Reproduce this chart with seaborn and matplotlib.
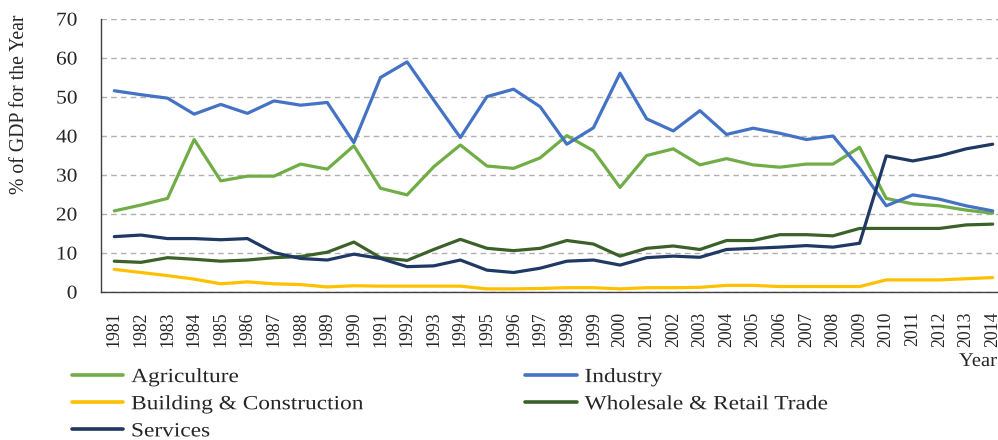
import numpy as np
import pandas as pd
import matplotlib
matplotlib.use('Agg')
import matplotlib.pyplot as plt
import seaborn as sns
from matplotlib.patheffects import AbstractPathEffect
from matplotlib.transforms import Affine2D

# data
years = [str(y) for y in range(1981, 2015)]

agriculture = [20.8, 22.3, 24.0, 39.1, 28.5, 29.7, 29.7, 32.8, 31.5, 37.5,
               26.6, 24.9, 32.1, 37.7, 32.3, 31.7, 34.4, 40.1, 36.2, 26.8,
               35.0, 36.7, 32.6, 34.2, 32.6, 32.0, 32.8, 32.8, 37.1, 24.0,
               22.6, 22.1, 21.0, 20.2]
industry = [51.6, 50.6, 49.7, 45.6, 48.1, 45.8, 49.0, 47.9, 48.6, 38.3,
            55.0, 59.0, 49.2, 39.6, 50.1, 52.0, 47.5, 37.9, 42.1, 56.1,
            44.4, 41.3, 46.5, 40.4, 42.0, 40.7, 39.1, 40.0, 31.8, 22.1,
            24.9, 23.8, 22.1, 20.8]
building = [5.8, 5.0, 4.2, 3.3, 2.1, 2.6, 2.1, 1.9, 1.3, 1.6,
            1.5, 1.5, 1.5, 1.5, 0.8, 0.8, 0.9, 1.1, 1.1, 0.8,
            1.1, 1.1, 1.2, 1.7, 1.7, 1.4, 1.4, 1.4, 1.4, 3.1,
            3.1, 3.1, 3.4, 3.7]
wholesale = [7.9, 7.6, 8.8, 8.4, 7.9, 8.2, 8.8, 9.1, 10.2, 12.8,
             8.8, 8.1, 10.9, 13.5, 11.2, 10.6, 11.2, 13.2, 12.3, 9.2,
             11.2, 11.8, 10.9, 13.2, 13.2, 14.7, 14.7, 14.4, 16.3, 16.3,
             16.3, 16.3, 17.2, 17.4]
services = [14.2, 14.6, 13.7, 13.7, 13.4, 13.7, 10.1, 8.6, 8.2, 9.7,
            8.6, 6.5, 6.7, 8.2, 5.6, 5.0, 6.1, 7.9, 8.2, 6.9,
            8.8, 9.2, 8.9, 10.9, 11.2, 11.5, 11.9, 11.5, 12.5, 34.9,
            33.6, 34.9, 36.7, 37.9]

sectors = ['Agriculture', 'Industry', 'Building & Construction',
           'Wholesale & Retail Trade', 'Services']
colors = ['#70AD47', '#4472C4', '#FFC000', '#3B6128', '#1F3864']

df = pd.DataFrame({'Year': years,
                   'Agriculture': agriculture,
                   'Industry': industry,
                   'Building & Construction': building,
                   'Wholesale & Retail Trade': wholesale,
                   'Services': services})
df = df.melt(id_vars='Year', var_name='Sector', value_name='GDP')


# the horizontal text in the original is drawn a bit wide
class StretchX(AbstractPathEffect):
    def __init__(self, sx, anchor='left'):
        super().__init__()
        self.sx = sx
        self.anchor = anchor

    def draw_path(self, renderer, gc, tpath, affine, rgbFace=None):
        ext = tpath.get_extents()
        x0 = ext.x0 if self.anchor == 'left' else ext.x1
        t = Affine2D().translate(-x0, 0).scale(self.sx, 1).translate(x0, 0) + affine
        renderer.draw_path(gc, tpath, t, rgbFace)


sns.set_style('white')
plt.rcParams['font.family'] = ['Liberation Serif', 'DejaVu Serif']

fig = plt.figure(figsize=(9.98, 4.40), dpi=100)
ax = fig.add_axes([101/998, 1 - 292/440, 905/998, 273/440])

sns.lineplot(data=df, x='Year', y='GDP', hue='Sector', hue_order=sectors,
             palette=colors, linewidth=2.3, ax=ax, legend=False, sort=False)

ax.set_xlim(-0.5, 33.5)
ax.set_ylim(0, 70)
ax.set_yticks(range(0, 71, 10))
ax.yaxis.grid(True, linestyle=(0, (4, 3)), color='#B0B0B0', linewidth=1)
ax.set_axisbelow(True)

ax.set_xticks(range(len(years)))
ax.set_xticklabels(years, rotation=90, fontsize=12.8)
ax.set_xticks(np.arange(-0.5, len(years), 1), minor=True)
ax.tick_params(axis='x', which='major', length=0, pad=14)
ax.tick_params(axis='x', which='minor', length=5, width=1, direction='out', color='#404040')
ax.tick_params(axis='y', length=5, width=1, direction='out', color='#404040',
               labelsize=14, pad=12)

for s in ['top', 'right']:
    ax.spines[s].set_visible(False)
for s in ['left', 'bottom']:
    ax.spines[s].set_color('#404040')
    ax.spines[s].set_linewidth(1)

ax.set_xlabel('')
ax.set_ylabel('')
fig.text(20/998, 1 - 104/440, '% of GDP for the Year', rotation=90,
         ha='center', va='center', fontsize=14.2)
yr = fig.text(0.999, 1 - 366/440, 'Year', ha='right', va='baseline', fontsize=14)
yr.set_path_effects([StretchX(1.06, 'right')])

# legend filled row by row like the original
order = [0, 2, 4, 1, 3]
handles = [plt.Line2D([], [], color=colors[i], linewidth=2.6) for i in order]
labels = [sectors[i] for i in order]
leg = fig.legend(handles, labels, loc='upper left',
                 bbox_to_anchor=(72/998, 1 - 368/440),
                 ncol=2, frameon=False, fontsize=14.5, handlelength=2.54,
                 handletextpad=0.4, columnspacing=9.65, labelspacing=0.4,
                 borderaxespad=0, borderpad=0)
for t in leg.get_texts():
    t.set_path_effects([StretchX(1.16, 'left')])

for t in ax.get_yticklabels():
    t.set_path_effects([StretchX(1.1, 'right')])

fig.savefig('out.png', dpi=100)
